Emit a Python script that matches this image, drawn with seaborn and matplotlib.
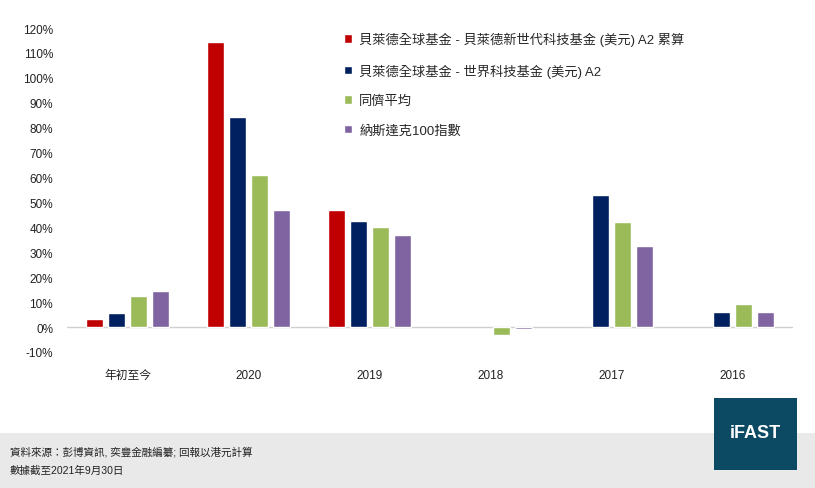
import numpy as np
import pandas as pd
import matplotlib
matplotlib.use("Agg")
import matplotlib.pyplot as plt
from matplotlib.patches import Rectangle
from matplotlib.ticker import FuncFormatter
import seaborn as sns

# chart values (%)
categories = ['年初至今', '2020', '2019', '2018', '2017', '2016']
next_gen_tech = [3.2, 114.2, 47.0, np.nan, np.nan, np.nan]
world_tech = [5.6, 84.3, 42.6, np.nan, 53.1, 6.0]
peer_average = [12.4, 61.0, 40.2, -3.1, 42.2, 9.2]
nasdaq_100 = [14.5, 47.0, 36.9, -0.7, 32.5, 6.0]

series_names = [
    '貝萊德全球基金 - 貝萊德新世代科技基金 (美元) A2 累算',
    '貝萊德全球基金 - 世界科技基金 (美元) A2',
    '同儕平均',
    '納斯達克100指數',
]
colors = ['#c00000', '#002060', '#9bbb59', '#8064a2']

df = pd.DataFrame({
    'period': categories * 4,
    'series': np.repeat(series_names, len(categories)),
    'value': next_gen_tech + world_tech + peer_average + nasdaq_100,
})

sns.set_theme(style="white")
plt.rcParams['font.family'] = ['Liberation Sans', 'Noto Sans CJK TC', 'DejaVu Sans']

W, H = 815, 489
fig = plt.figure(figsize=(W / 100, H / 100), dpi=100)
ax = fig.add_axes([67 / W, (H - 353) / H, 726 / W, 324 / H])

sns.barplot(data=df, x='period', y='value', hue='series', hue_order=series_names,
            order=categories, palette=colors, width=0.727, gap=0.23,
            saturation=1, ax=ax, errorbar=None)

ax.set_ylim(-10, 120)
ax.set_yticks(range(-10, 121, 10))
ax.yaxis.set_major_formatter(FuncFormatter(lambda v, _: f'{v:.0f}%'))
ax.set_xlabel('')
ax.set_ylabel('')
for s in ax.spines.values():
    s.set_visible(False)
ax.axhline(0, color='#d0d0d0', lw=1, zorder=0.5)
ax.tick_params(axis='y', length=0, labelsize=8.5, colors='#222222', pad=10)
ax.tick_params(axis='x', length=0, labelsize=8.5, colors='#222222', pad=12)

sns.move_legend(ax, 'upper left', bbox_to_anchor=(344 / W, 1 - 33 / H),
                bbox_transform=fig.transFigure, frameon=False, title=None,
                fontsize=9.5, handlelength=0.6, handleheight=0.6,
                handletextpad=0.55, labelspacing=1.3, borderpad=0, borderaxespad=0)

# footer band
fig.patches.append(Rectangle((0, 0), 1, (H - 434) / H, transform=fig.transFigure,
                             facecolor='#e9e9e9', edgecolor='none', zorder=0))
fig.text(10 / W, (H - 452) / H, '資料來源：彭博資訊, 奕豐金融編纂; 回報以港元計算',
         fontsize=7.6, va='center', color='#222222')
fig.text(10 / W, (H - 471) / H, '數據截至2021年9月30日',
         fontsize=7.6, va='center', color='#222222')

# logo
fig.patches.append(Rectangle((714 / W, (H - 471) / H), 83 / W, 72 / H,
                             transform=fig.transFigure, facecolor='#0b4a62',
                             edgecolor='none', zorder=1))
fig.text(755.5 / W, (H - 434) / H, 'iFAST', fontsize=13, fontweight='bold',
         color='white', ha='center', va='center', zorder=2)

fig.savefig('out.png', dpi=100)
